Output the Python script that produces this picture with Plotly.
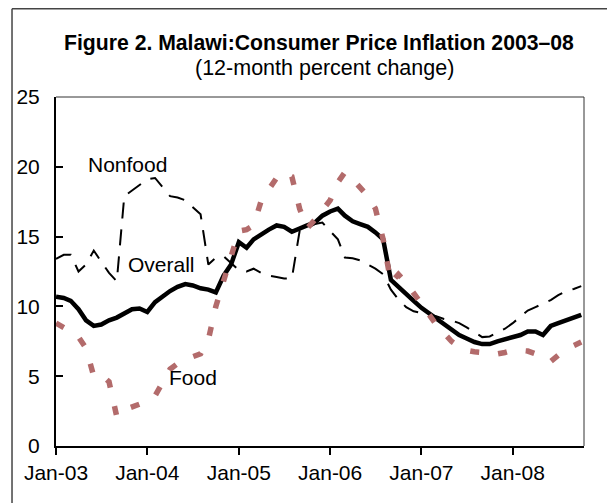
import plotly.graph_objects as go
import pandas as pd

# ---------------- data (12-month percent change, Jan-03 .. Oct-08) ----------------
months = pd.date_range("2003-01-01", periods=70, freq="MS")

overall = [10.7, 10.6, 10.4, 9.8, 9.0, 8.6, 8.7, 9.0, 9.2, 9.5,
           9.8, 9.85, 9.6, 10.3, 10.7, 11.1, 11.4, 11.6, 11.5, 11.3,
           11.2, 11.0, 12.2, 13.0, 14.6, 14.2, 14.8, 15.2, 15.5, 15.8,
           15.7, 15.35, 15.6, 15.8, 16.0, 16.5, 16.8, 17.0, 16.5, 16.1,
           15.9, 15.7, 15.3, 14.8, 11.9, 11.4, 10.8, 10.4, 9.9, 9.5,
           9.1, 8.7, 8.3, 7.95, 7.7, 7.45, 7.3, 7.3, 7.5, 7.65,
           7.75, 7.95, 8.2, 8.2, 7.95, 8.6, 8.8, 9.0, 9.25, 9.4]

nonfood = [13.4, 13.7, 13.7, 12.5, 13.0, 14.0, 13.2, 12.4, 11.8, 17.9,
           18.3, 18.7, 19.1, 19.2, 18.6, 17.9, 17.8, 17.6, 17.1, 16.6,
           13.0, 13.5, 13.6, 13.1, 12.6, 12.5, 12.7, 12.4, 12.2, 12.1,
           12.0, 12.0, 15.4, 15.6, 15.9, 16.0, 15.4, 14.8, 13.5, 13.45,
           13.3, 13.0, 12.7, 12.3, 11.2, 10.5, 9.95, 9.65, 9.5, 9.4,
           9.3, 9.1, 9.0, 8.8, 8.5, 8.15, 7.8, 7.85, 8.1, 8.4,
           8.8, 9.3, 9.7, 9.95, 10.2, 10.45, 10.8, 11.1, 11.25, 11.45]

food = [8.8, 8.5, 8.2, 7.8, 7.0, 5.0, 5.1, 4.6, 2.1, 2.6,
        2.8, 3.0, 3.3, 3.6, 4.5, 5.5, 5.9, 6.2, 6.4, 6.6,
        7.6, 10.0, 11.8, 13.6, 15.4, 15.5, 15.8, 17.6, 18.4, 19.2,
        19.6, 19.3, 17.0, 15.6, 16.2, 16.9, 17.6, 18.9, 19.6, 19.1,
        18.5, 17.9, 17.0, 14.8, 11.7, 12.3, 11.7, 10.9, 10.1, 9.4,
        8.7, 8.1, 7.5, 7.1, 6.85, 6.75, 6.7, 6.6, 6.6, 6.7,
        6.85, 6.85, 6.8, 6.6, 6.4, 6.05, 6.5, 6.95, 7.2, 7.45]

tick_dates = ["2003-01-01", "2004-01-01", "2005-01-01",
              "2006-01-01", "2007-01-01", "2008-01-01"]
tick_labels = ["Jan-03", "Jan-04", "Jan-05", "Jan-06", "Jan-07", "Jan-08"]
y_ticks = [0, 5, 10, 15, 20, 25]

FONT = "Liberation Sans, Arial, sans-serif"

fig = go.Figure()
fig.add_trace(go.Scatter(x=months, y=nonfood, mode="lines", name="Nonfood",
                         line=dict(color="black", width=2, dash="16px,11px")))
fig.add_trace(go.Scatter(x=months, y=overall, mode="lines", name="Overall",
                         line=dict(color="black", width=4.5)))
fig.add_trace(go.Scatter(x=months, y=food, mode="lines", name="Food",
                         line=dict(color="#B36B6B", width=5.5, dash="9px,19px")))

# the page body adds an 8px margin, so the figure is 8px smaller and shifted
fig.update_layout(
    width=607, height=495,
    margin=dict(l=48, r=31, t=89, b=57, autoexpand=False),
    paper_bgcolor="white", plot_bgcolor="white",
    showlegend=False,
    font=dict(family=FONT, size=21, color="black"),
    xaxis=dict(type="date", range=["2003-01-01", "2008-10-12"], automargin=False,
               tickmode="array", tickvals=tick_dates, ticktext=tick_labels,
               ticks="outside", ticklen=7, tickwidth=2, tickcolor="black",
               showline=True, linecolor="black", linewidth=2,
               showgrid=False, zeroline=False,
               tickfont=dict(family=FONT, size=21, color="black")),
    yaxis=dict(range=[0, 25], tickmode="array", tickvals=y_ticks, automargin=False,
               ticks="inside", ticklen=7, tickwidth=2, tickcolor="black",
               showline=True, linecolor="black", linewidth=2,
               showgrid=False, zeroline=False, ticklabelstandoff=10,
               tickfont=dict(family=FONT, size=21, color="black")),
)

# plot box top / right and outer frame
fig.add_shape(type="line", xref="paper", yref="paper", x0=0, x1=1, y0=1, y1=1,
              line=dict(color="#333333", width=1))
fig.add_shape(type="line", xref="paper", yref="paper", x0=1, x1=1, y0=0, y1=1,
              line=dict(color="#333333", width=1))
fig.add_shape(type="line", xref="paper", yref="paper", x0=-0.0833, x1=-0.0833,
              y0=-0.2, y1=1.253, line=dict(color="#444444", width=1.5))
fig.add_shape(type="line", xref="paper", yref="paper", x0=-0.0833, x1=1.08,
              y0=1.253, y1=1.253, line=dict(color="#444444", width=1.5))

# titles
fig.add_annotation(text="<b>Figure 2. Malawi:Consumer Price Inflation 2003–08</b>",
                   xref="paper", yref="paper", x=0.498, y=1.1547,
                   showarrow=False, xanchor="center", yanchor="middle",
                   font=dict(family=FONT, size=21.2, color="black"))
fig.add_annotation(text="(12-month percent change)",
                   xref="paper", yref="paper", x=0.5076, y=1.0831,
                   showarrow=False, xanchor="center", yanchor="middle",
                   font=dict(family=FONT, size=21.5, color="black"))

# series labels
fig.add_annotation(text="Nonfood", x="2003-10-12", y=20.13, showarrow=False,
                   xanchor="center", yanchor="middle",
                   font=dict(family=FONT, size=21, color="black"))
fig.add_annotation(text="Overall", x="2004-02-26", y=13.0, showarrow=False,
                   xanchor="center", yanchor="middle",
                   font=dict(family=FONT, size=21, color="black"))
fig.add_annotation(text="Food", x="2004-07-03", y=4.9, showarrow=False,
                   xanchor="center", yanchor="middle",
                   font=dict(family=FONT, size=21, color="black"))

fig.write_html("out.html")
